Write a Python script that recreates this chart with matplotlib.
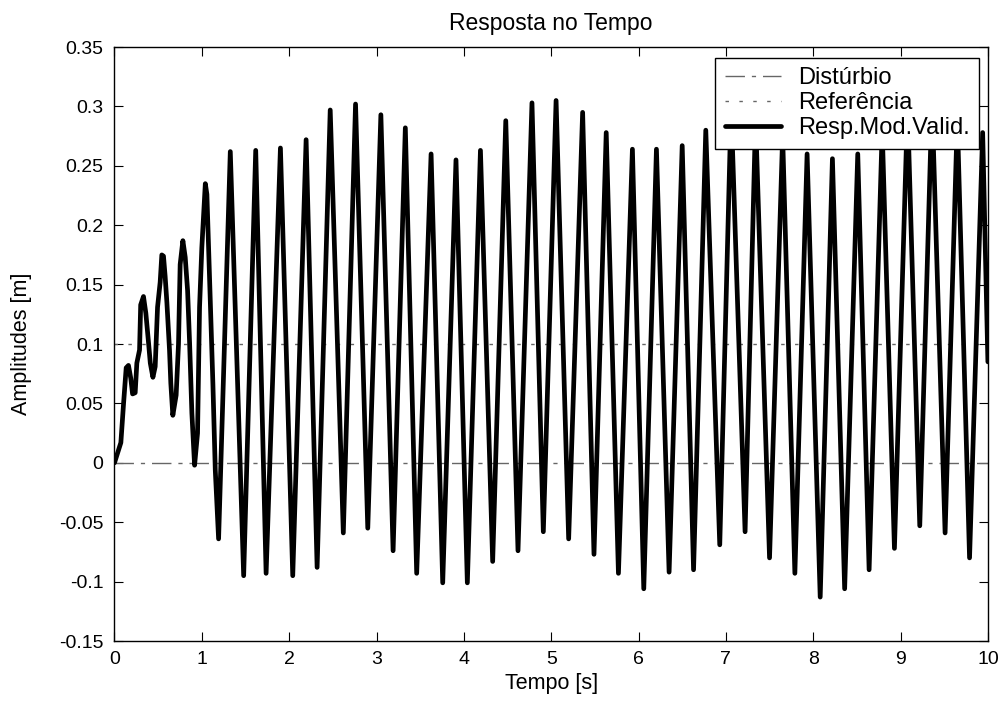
import matplotlib.pyplot as plt
import numpy as np

plt.rcParams.update({'font.family': ['Liberation Sans', 'DejaVu Sans'],
                     'font.size': 14, 'axes.unicode_minus': False})

# resposta do modelo validado
tempo = np.array([0.0, 0.073, 0.104, 0.134, 0.16, 0.187, 0.207, 0.237, 0.256, 0.287,
                  0.30, 0.332, 0.359, 0.39, 0.41, 0.44, 0.466, 0.493, 0.523, 0.542,
                  0.561, 0.58, 0.60, 0.63, 0.645, 0.668, 0.706, 0.733, 0.752, 0.783,
                  0.81, 0.837, 0.86, 0.886, 0.917, 0.951, 0.974, 1.0, 1.04, 1.058,
                  1.097, 1.127, 1.154,
                  1.192, 1.326, 1.479, 1.617, 1.736, 1.900, 2.041, 2.194, 2.32, 2.47,
                  2.62, 2.76, 2.90, 3.05, 3.19, 3.33, 3.46, 3.625, 3.758, 3.91,
                  4.04, 4.19, 4.33, 4.48, 4.62, 4.78, 4.91, 5.056, 5.20, 5.36,
                  5.49, 5.63, 5.77, 5.93, 6.06, 6.205, 6.35, 6.50, 6.63, 6.77,
                  6.93, 7.06, 7.22, 7.34, 7.50, 7.65, 7.79, 7.93, 8.08, 8.22,
                  8.36, 8.51, 8.64, 8.79, 8.93, 9.08, 9.22, 9.36, 9.51, 9.65,
                  9.79, 9.94, 10.0])
resp = np.array([0.0, 0.017, 0.050, 0.080, 0.082, 0.071, 0.058, 0.059, 0.084, 0.095,
                 0.133, 0.140, 0.126, 0.101, 0.084, 0.072, 0.081, 0.131, 0.152, 0.175,
                 0.174, 0.157, 0.135, 0.095, 0.067, 0.040, 0.057, 0.100, 0.167, 0.187,
                 0.173, 0.145, 0.101, 0.042, -0.002, 0.025, 0.131, 0.181, 0.235, 0.226,
                 0.136, 0.066, -0.006,
                 -0.064, 0.262, -0.095, 0.263, -0.093, 0.265, -0.095, 0.272, -0.088, 0.297,
                 -0.059, 0.302, -0.055, 0.293, -0.074, 0.282, -0.093, 0.260, -0.101, 0.255,
                 -0.101, 0.263, -0.083, 0.288, -0.074, 0.303, -0.058, 0.305, -0.064, 0.295,
                 -0.077, 0.278, -0.093, 0.264, -0.106, 0.264, -0.092, 0.267, -0.090, 0.28,
                 -0.069, 0.30, -0.058, 0.29, -0.080, 0.275, -0.093, 0.26, -0.113, 0.256,
                 -0.106, 0.26, -0.090, 0.28, -0.072, 0.30, -0.053, 0.305, -0.059, 0.29,
                 -0.080, 0.278, 0.085])

disturbio = 0.0
referencia = 0.1

xticks = np.arange(0, 11, 1)
yticks = [-0.15, -0.1, -0.05, 0, 0.05, 0.1, 0.15, 0.2, 0.25, 0.3, 0.35]
ytick_labels = ['-0.15', '-0.1', '-0.05', '0', '0.05', '0.1', '0.15', '0.2', '0.25', '0.3', '0.35']

fig = plt.figure(figsize=(10.06, 7.06), dpi=100)
ax = fig.add_axes([0.1138, 0.092, 0.8682, 0.8414])

ax.plot([0, 10], [disturbio, disturbio], color='0.4', lw=1,
        dashes=(14, 5, 3, 5), label='Distúrbio')
ax.plot([0, 10], [referencia, referencia], color='0.4', lw=1,
        dashes=(2.5, 7.5), label='Referência')
ax.plot(tempo, resp, color='k', lw=3.4, solid_joinstyle='round',
        solid_capstyle='round', label='Resp.Mod.Valid.')

ax.set_xlim(0, 10)
ax.set_ylim(-0.15, 0.35)
ax.set_xticks(xticks)
ax.set_yticks(yticks)
ax.set_yticklabels(ytick_labels)
ax.tick_params(direction='in', length=6.5, top=True, right=True, labelsize=14)
ax.tick_params(axis='y', pad=8)
ax.tick_params(axis='x', pad=7)
for s in ax.spines.values():
    s.set_linewidth(1)

ax.set_title('Resposta no Tempo', fontsize=16.5, pad=12.5)
ax.set_xlabel('Tempo [s]', fontsize=15.5, labelpad=3.5)
ax.set_ylabel('Amplitudes [m]', fontsize=15.5)
ax.yaxis.set_label_coords(-0.095, 0.5)

leg = ax.legend(loc='upper right', bbox_to_anchor=(0.9897, 0.9815), borderaxespad=0,
                fontsize=17, fancybox=False, framealpha=1, edgecolor='k',
                handlelength=2.4, handletextpad=0.7, labelspacing=0.12, borderpad=0.4)
leg.get_frame().set_linewidth(1)

fig.savefig('out.png', dpi=100)
